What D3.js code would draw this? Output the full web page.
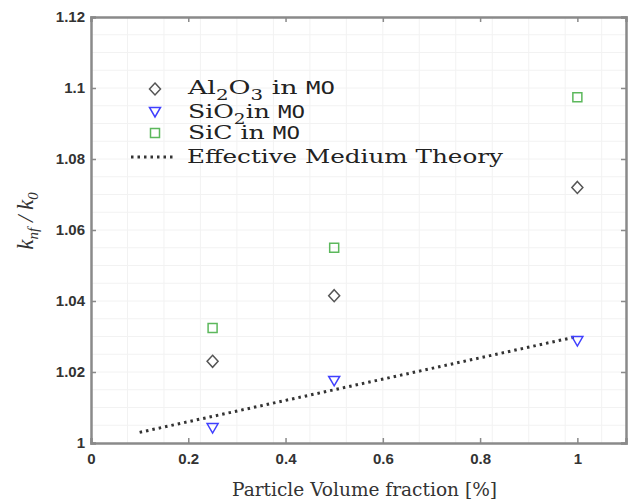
<!DOCTYPE html>
<html>
<head>
<meta charset="utf-8">
<script src="https://cdn.jsdelivr.net/npm/d3@7"></script>
<style>
  body { margin: 0; background: #fff; }
  svg { display: block; }
  .tick text { font-family: 'Liberation Sans', Arial, sans-serif; font-weight: bold; font-size: 15px; fill: #333; }
  .legend text { font-family: 'DejaVu Serif', serif; font-size: 19px; fill: #222; }
  .mono { font-family: 'DejaVu Sans Mono', monospace; font-size: 17px; }
</style>
</head>
<body>
<svg id="chart" width="629" height="501"></svg>
<script>
// data
const fractions = [0.25, 0.5, 1];
const al2o3 = [1.023, 1.0415, 1.072];
const sio2 = [1.0042, 1.0175, 1.0287];
const sic = [1.0324, 1.055, 1.0974];
const emtX = [0.1, 1];
const emtY = [1.003, 1.030];
const xTicks = [0, 0.2, 0.4, 0.6, 0.8, 1];
const yTicks = [1, 1.02, 1.04, 1.06, 1.08, 1.1, 1.12];

const svg = d3.select('#chart');
const plotL = 91, plotR = 626, plotT = 17, plotB = 443;

const x = d3.scaleLinear().domain([0, 1.1]).range([plotL, plotR]);
const y = d3.scaleLinear().domain([1, 1.12]).range([plotB, plotT]);

// faint grid
const grid = svg.append('g').attr('stroke', '#f2f2f2').attr('stroke-width', 1);
grid.selectAll('.gx').data(d3.range(0.075, 1.1, 0.075)).enter().append('line')
  .attr('x1', d => x(d)).attr('x2', d => x(d)).attr('y1', plotT).attr('y2', plotB);
grid.selectAll('.gy').data(d3.range(1.005, 1.12, 0.005)).enter().append('line')
  .attr('y1', d => y(d)).attr('y2', d => y(d)).attr('x1', plotL).attr('x2', plotR);

// axes
const fmt = d => d3.format('')(+d.toFixed(2));
const axB = svg.append('g').attr('transform', `translate(0,${plotB})`)
  .call(d3.axisBottom(x).tickValues(xTicks).tickSize(-5).tickPadding(10).tickFormat(fmt));
const axL = svg.append('g').attr('transform', `translate(${plotL},0)`)
  .call(d3.axisLeft(y).tickValues(yTicks).tickSize(-5).tickPadding(6).tickFormat(fmt));
const axT = svg.append('g').attr('transform', `translate(0,${plotT})`)
  .call(d3.axisTop(x).tickValues(xTicks).tickSize(-5).tickFormat(''));
const axR = svg.append('g').attr('transform', `translate(${plotR},0)`)
  .call(d3.axisRight(y).tickValues(yTicks).tickSize(-5).tickFormat(''));
[axB, axL, axT, axR].forEach(a => {
  a.select('.domain').attr('stroke', '#8a8a8a').attr('stroke-width', 2.5);
  a.selectAll('.tick line').attr('stroke', '#8a8a8a').attr('stroke-width', 1.5);
});

// effective medium line
svg.append('path')
  .datum(emtX.map((d, i) => [d, emtY[i]]))
  .attr('d', d3.line().x(d => x(d[0])).y(d => y(d[1])))
  .attr('fill', 'none').attr('stroke', '#333').attr('stroke-width', 3)
  .attr('stroke-dasharray', '2.5,4');

const diamond = 'M0,-6L5.5,0L0,6L-5.5,0Z';
const tri = 'M-5.5,-4.5L5.5,-4.5L0,5Z';
const square = 'M-4.5,-4.5L4.5,-4.5L4.5,4.5L-4.5,4.5Z';

const series = [
  { vals: al2o3, path: diamond, color: '#555' },
  { vals: sio2, path: tri, color: '#4040ff' },
  { vals: sic, path: square, color: '#5cb85c' },
];
series.forEach(s => {
  svg.append('g').selectAll('path').data(fractions).enter().append('path')
    .attr('transform', (d, i) => `translate(${x(d)},${y(s.vals[i])})`)
    .attr('d', s.path).attr('fill', 'none').attr('stroke', s.color).attr('stroke-width', 1.5);
});

// legend
const lg = svg.append('g').attr('class', 'legend');
const rows = [89, 112, 133, 157];
lg.append('path').attr('transform', `translate(155,${rows[0]})`).attr('d', diamond)
  .attr('fill', 'none').attr('stroke', '#555').attr('stroke-width', 1.5);
lg.append('path').attr('transform', `translate(155,${rows[1]})`).attr('d', tri)
  .attr('fill', 'none').attr('stroke', '#4040ff').attr('stroke-width', 1.5);
lg.append('path').attr('transform', `translate(155,${rows[2]})`).attr('d', square)
  .attr('fill', 'none').attr('stroke', '#5cb85c').attr('stroke-width', 1.5);
lg.append('line').attr('x1', 131).attr('x2', 175).attr('y1', rows[3]).attr('y2', rows[3])
  .attr('stroke', '#333').attr('stroke-width', 3).attr('stroke-dasharray', '2.5,4');

const t1 = lg.append('text').attr('x', 188).attr('y', rows[0] + 5)
  .attr('textLength', 147).attr('lengthAdjust', 'spacingAndGlyphs');
t1.append('tspan').text('Al');
t1.append('tspan').attr('dy', 6).attr('font-size', 14).text('2');
t1.append('tspan').attr('dy', -6).text('O');
t1.append('tspan').attr('dy', 6).attr('font-size', 14).text('3');
t1.append('tspan').attr('dy', -6).text(' in ');
t1.append('tspan').attr('class', 'mono').text('MO');

const t2 = lg.append('text').attr('x', 188).attr('y', rows[1] + 6)
  .attr('textLength', 117).attr('lengthAdjust', 'spacingAndGlyphs');
t2.append('tspan').text('SiO');
t2.append('tspan').attr('dy', 6).attr('font-size', 14).text('2');
t2.append('tspan').attr('dy', -6).text('in ');
t2.append('tspan').attr('class', 'mono').text('MO');

const t3 = lg.append('text').attr('x', 188).attr('y', rows[2] + 6)
  .attr('textLength', 112).attr('lengthAdjust', 'spacingAndGlyphs');
t3.append('tspan').text('SiC in ');
t3.append('tspan').attr('class', 'mono').text('MO');

lg.append('text').attr('x', 187).attr('y', rows[3] + 6)
  .attr('textLength', 316).attr('lengthAdjust', 'spacingAndGlyphs')
  .text('Effective Medium Theory');

// axis labels
svg.append('text').attr('x', 232).attr('y', 496)
  .attr('textLength', 265).attr('lengthAdjust', 'spacingAndGlyphs')
  .attr('font-family', 'DejaVu Serif, serif').attr('font-size', 18).attr('fill', '#333')
  .text('Particle Volume fraction [%]');

const yl = svg.append('text').attr('transform', 'translate(33,221) rotate(-90)')
  .attr('text-anchor', 'middle').attr('font-family', 'Liberation Serif, serif')
  .attr('font-style', 'italic').attr('font-size', 23).attr('fill', '#333');
yl.append('tspan').text('k');
yl.append('tspan').attr('dy', 5).attr('font-size', 15).text('nf');
yl.append('tspan').attr('dy', -5).text(' / k');
yl.append('tspan').attr('dy', 5).attr('font-size', 15).text('0');
</script>
</body>
</html>
